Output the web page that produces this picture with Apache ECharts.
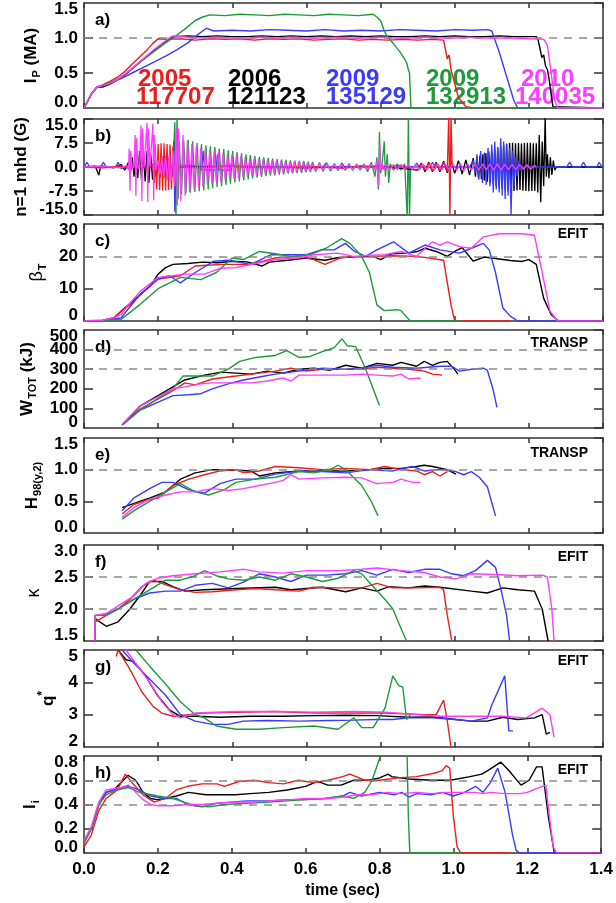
<!DOCTYPE html>
<html><head><meta charset="utf-8">
<script src="https://cdn.jsdelivr.net/npm/echarts@6.0.0/dist/echarts.min.js"></script>
<style>html,body{margin:0;padding:0;background:#fff}#c{width:616px;height:903px}</style>
</head><body><div id="c"></div><script>
// ---------- data (time in s) ----------
const years = ['2005','2006','2009','2009','2010'];
const shots = ['117707','121123','135129','132913','140035'];
const panelLetters = ['a)','b)','c)','d)','e)','f)','g)','h)'];
const panelSource = ['','','EFIT','TRANSP','TRANSP','EFIT','EFIT','EFIT'];
const yMin = [0,-15,0,0,0,1.5,2,0];
const yMax = [1.5,15,30,500,1.5,3,5,0.8];
const yStep = [0.5,7.5,10,100,0.5,0.5,1,0.2];
const yDigits = [1,1,0,0,1,1,0,1];
const refLevels = [[1.0],[],[20],[400,300],[1.0],[2.5,2.0],[],[0.6,0.4]];

// a) Ip (MA)
const ipRed = [[0,0],[0.01,0.1],[0.02,0.2],[0.035,0.3],[0.05,0.33],[0.07,0.38],[0.09,0.44],[0.11,0.52],[0.13,0.63],[0.15,0.73],[0.17,0.83],[0.185,0.92],[0.2,0.99],[0.22,0.98],[0.26,0.99],[0.3,0.97],[0.34,0.99],[0.38,0.98],[0.42,0.99],[0.46,0.97],[0.5,0.99],[0.54,0.98],[0.58,0.99],[0.62,0.97],[0.66,0.98],[0.7,0.99],[0.74,0.97],[0.78,0.98],[0.82,0.97],[0.86,0.98],[0.9,0.97],[0.94,0.98],[0.97,0.97],[0.975,0.95],[0.98,0.7],[0.985,0.76],[0.99,0.55],[1.0,0.35],[1.01,0.15],[1.03,0.02],[1.05,0],[1.4,0]];
const ipBlack = [[0,0],[0.01,0.1],[0.02,0.2],[0.035,0.3],[0.05,0.3],[0.07,0.34],[0.09,0.4],[0.11,0.47],[0.13,0.56],[0.15,0.65],[0.17,0.74],[0.19,0.83],[0.21,0.91],[0.23,0.99],[0.24,1.02],[0.28,1.03],[0.32,1.02],[0.36,1.03],[0.4,1.02],[0.44,1.02],[0.48,1.03],[0.52,1.02],[0.56,1.03],[0.6,1.02],[0.64,1.03],[0.68,1.02],[0.72,1.03],[0.76,1.02],[0.8,1.03],[0.84,1.02],[0.88,1.02],[0.92,1.03],[0.96,1.02],[1.0,1.03],[1.04,1.02],[1.08,1.02],[1.12,1.03],[1.16,1.02],[1.2,1.02],[1.22,1.02],[1.225,0.97],[1.23,0.85],[1.235,0.72],[1.24,0.76],[1.245,0.6],[1.25,0.55],[1.255,0.4],[1.26,0.2],[1.265,0.02],[1.27,0],[1.4,0]];
const ipBlue = [[0,0],[0.01,0.1],[0.02,0.2],[0.035,0.3],[0.05,0.32],[0.07,0.36],[0.1,0.42],[0.13,0.5],[0.16,0.58],[0.19,0.66],[0.22,0.74],[0.25,0.83],[0.28,0.93],[0.3,1.02],[0.32,1.1],[0.33,1.14],[0.35,1.1],[0.4,1.11],[0.45,1.1],[0.5,1.12],[0.55,1.11],[0.6,1.1],[0.65,1.12],[0.7,1.1],[0.75,1.11],[0.8,1.1],[0.85,1.12],[0.9,1.11],[0.95,1.1],[1.0,1.12],[1.05,1.11],[1.09,1.12],[1.1,1.1],[1.12,0.8],[1.14,0.45],[1.16,0.1],[1.17,0],[1.4,0]];
const ipGreen = [[0,0],[0.01,0.1],[0.02,0.2],[0.035,0.3],[0.05,0.32],[0.07,0.36],[0.1,0.44],[0.13,0.56],[0.16,0.69],[0.19,0.81],[0.22,0.93],[0.24,1.0],[0.27,1.12],[0.3,1.25],[0.32,1.3],[0.34,1.33],[0.38,1.32],[0.42,1.34],[0.46,1.33],[0.5,1.32],[0.54,1.34],[0.58,1.33],[0.62,1.32],[0.66,1.34],[0.7,1.33],[0.74,1.32],[0.78,1.34],[0.79,1.3],[0.8,1.25],[0.81,1.1],[0.82,1.0],[0.83,0.95],[0.84,0.88],[0.85,0.82],[0.86,0.74],[0.87,0.65],[0.875,0.55],[0.878,0.5],[0.882,0],[1.4,0]];
const ipMag = [[0,0],[0.01,0.1],[0.02,0.2],[0.035,0.3],[0.05,0.32],[0.07,0.35],[0.09,0.41],[0.11,0.48],[0.13,0.57],[0.15,0.66],[0.17,0.75],[0.19,0.84],[0.21,0.92],[0.23,1.0],[0.24,1.03],[0.28,1.01],[0.32,1.0],[0.36,1.01],[0.4,1.0],[0.44,1.0],[0.48,1.01],[0.52,1.0],[0.56,1.01],[0.6,1.0],[0.64,1.0],[0.68,1.01],[0.72,1.0],[0.76,1.0],[0.8,1.01],[0.84,1.0],[0.88,1.0],[0.92,1.01],[0.96,1.0],[1.0,1.0],[1.04,1.01],[1.08,1.0],[1.12,1.0],[1.16,1.0],[1.2,0.99],[1.24,0.98],[1.25,0.9],[1.26,0.5],[1.27,0.1],[1.278,0],[1.4,0]];

// b) n=1 mhd (G)
const mhdGreen = [[0,0],[0.05,0.3],[0.1,-0.2],[0.15,0.2],[0.2,-0.3],[0.24,0.2],[0.245,14],[0.248,-17],[0.251,17],[0.254,-10],
[0.257,8],[0.263,-8.5],[0.269,8.3],[0.275,-8.2],[0.281,8.5],[0.287,-8],[0.293,8],[0.299,-7.8],[0.305,7.5],[0.311,-7.6],[0.317,7.2],[0.323,-7.3],[0.329,6.8],[0.335,-7],[0.341,6.5],[0.347,-6.6],[0.353,6.2],[0.359,-6.2],[0.365,5.8],[0.371,-6],[0.377,5.6],[0.383,-5.5],[0.389,5.2],[0.395,-5.2],[0.401,5],[0.407,-4.8],[0.413,4.6],[0.419,-4.5],[0.425,4.3],[0.431,-4.2],[0.437,4],[0.443,-3.9],[0.449,3.7],[0.455,-3.6],[0.461,3.4],[0.467,-3.3],[0.473,3.2],[0.479,-3.1],[0.485,3],[0.491,-2.9],[0.497,2.8],[0.503,-2.7],[0.509,2.6],[0.515,-2.6],[0.521,2.5],[0.527,-2.4],[0.533,2.3],[0.539,-2.3],[0.545,2.2],[0.551,-2.1],[0.557,2.1],[0.563,-2],[0.569,2],[0.575,-1.9],[0.581,1.9],[0.587,-1.8],[0.593,1.8],[0.599,-1.7],[0.605,1.7],[0.611,-1.6],[0.617,1.6],
[0.625,-1.5],[0.635,1.4],[0.645,-1.4],[0.655,1.3],[0.665,-1.3],[0.675,1.2],[0.685,-1.2],[0.695,1.2],[0.705,-1.1],[0.715,1.1],[0.725,-1.1],[0.735,1],[0.745,-1],[0.755,1],[0.765,-1.5],[0.775,1.5],[0.785,-3],[0.79,3],[0.794,-7],[0.797,11],[0.8,-2],[0.805,2],[0.81,8],[0.813,-3],[0.818,4],[0.822,-5],[0.826,1],[0.835,-1],[0.845,1],[0.855,-1],[0.865,1],[0.872,-16],[0.875,16],[0.878,-16],[0.881,0],[1.4,0]];
const mhdBlack = [[0,0],[0.03,0.3],[0.04,-2.5],[0.045,0.3],[0.08,-0.3],[0.1,0.8],[0.11,-1],[0.12,1.5],[0.125,-2],[0.13,3],[0.135,-3],[0.14,4],[0.145,-3.5],[0.15,5],[0.155,-4],[0.16,4],[0.165,-4.5],[0.17,5],[0.175,-5],[0.18,4],[0.185,-4],[0.19,3],[0.195,-3],[0.2,3.2],[0.205,-3.2],[0.21,3.3],[0.215,-3.3],[0.22,3.3],[0.225,-3.3],[0.23,3],[0.235,-3],[0.24,2],[0.25,0],[0.4,0.3],[0.6,-0.3],[0.8,0.3],[0.9,-1],[0.91,1.2],[0.92,-1.5],[0.93,1.5],[0.94,-1.5],[0.95,1.5],[0.96,-1.5],[0.97,1.8],[0.98,-1.8],[0.99,2],[1.0,-2],[1.01,2],[1.02,-2.2],[1.03,2.2],[1.04,-2.5],[1.05,2.8],
[1.056,-3],[1.06,3.2],[1.064,-3.5],[1.068,3.6],[1.072,-3.8],[1.076,4],[1.08,-4.2],[1.084,4.4],[1.088,-4.6],[1.092,4.8],[1.096,-5],[1.1,5.2],[1.104,-5.5],[1.108,5.7],[1.112,-6],[1.116,6.2],[1.12,-6.5],[1.124,6.6],[1.128,-6.8],[1.132,7],[1.136,-7.2],[1.14,7.3],[1.144,-7.4],[1.148,7.5],[1.152,-7.6],[1.156,7.6],[1.16,-7.5],[1.164,7.4],[1.168,-7.3],[1.172,7.5],[1.176,-7.2],[1.18,7.3],[1.184,-7.4],[1.188,7.5],[1.192,-7.5],[1.196,7.6],[1.2,-7.6],[1.204,7.6],[1.208,-7.5],[1.212,7.4],[1.216,-7.5],[1.22,7.4],[1.224,-8],[1.228,10],[1.232,-11],[1.236,8],[1.24,-6],[1.244,16],[1.247,-3],[1.25,4],[1.254,-3.5],[1.258,3],[1.262,-2.5],[1.266,2],[1.27,-1],[1.275,0],[1.4,0]];
const mhdBlue = [[0,0],[0.008,1.5],[0.015,0],[0.045,0],[0.052,1.5],[0.06,0],[0.085,0],[0.092,1.5],[0.1,-0.5],[0.12,0.3],[0.13,1],[0.14,0],[0.2,0],[0.23,0.5],[0.238,-3],[0.242,8],[0.245,-14],[0.248,6],[0.252,-2],[0.26,0.5],[0.3,0.5],[0.318,-1],[0.322,5],[0.326,-1],[0.356,-1],[0.36,4],[0.364,-1],[0.396,-1],[0.4,3.5],[0.405,0],[0.5,0],[0.645,0],[0.652,1.2],[0.66,0],[0.69,0],[0.696,1.2],[0.703,0],[0.89,0],[0.897,1.2],[0.905,0],[0.933,0],[0.94,1.5],[0.947,0],[1.04,0],
[1.05,2],[1.055,-2],[1.06,4],[1.065,-4],[1.07,5],[1.075,-5],[1.08,4.5],[1.085,-5.5],[1.09,6],[1.095,-6],[1.1,7],[1.104,-8],[1.108,8],[1.112,-7],[1.116,6],[1.12,-8],[1.124,9],[1.128,-9],[1.132,8],[1.136,-10],[1.14,7],[1.144,-9],[1.148,6],[1.152,-15],[1.156,5],[1.16,-6],[1.164,3],[1.168,-3],[1.172,2],[1.176,-1],[1.18,0],[1.302,0],[1.31,1.5],[1.318,0],[1.34,0],[1.347,1.5],[1.355,0],[1.383,0],[1.39,1.5],[1.397,0],[1.4,0]];
const mhdRed = [[0,0],[0.05,-0.3],[0.1,0.3],[0.12,-0.5],[0.15,0.4],[0.17,-0.5],[0.185,1],[0.19,-5],[0.192,7],[0.196,-7],[0.2,7.2],[0.204,-7.2],[0.208,7.4],[0.212,-7.3],[0.216,7.4],[0.22,-7.4],[0.224,7.2],[0.228,-7.2],[0.232,7],[0.236,-7],[0.24,6.5],[0.244,-5],[0.25,0.5],[0.3,-0.3],[0.4,0.3],[0.5,-0.3],[0.6,0.3],[0.7,-0.4],[0.75,0.4],[0.8,-0.5],[0.85,0.5],[0.9,-1],[0.91,1],[0.92,-1],[0.93,1.2],[0.94,-1.2],[0.95,1.2],[0.96,-1.2],[0.97,1.5],[0.98,-1.5],[0.984,17],[0.987,-17],[0.99,17],[0.993,0],[1.0,0]];
const mhdMag = [[0,0],[0.05,0.3],[0.1,-0.3],[0.115,0.5],[0.12,-1],[0.122,5.8],[0.124,-7.4],[0.126,5],[0.13,-0.5],[0.135,0.5],[0.138,10],[0.14,-9],[0.142,9],[0.146,-0.5],[0.15,0.3],[0.154,13],[0.156,-10.6],[0.158,12],[0.162,0],[0.167,0.5],[0.17,13.8],[0.172,-11],[0.174,12],[0.178,0],[0.183,0.5],[0.186,13.6],[0.188,-10.4],[0.19,10],[0.194,-1],[0.2,2],[0.205,-2.5],[0.21,3],[0.215,-3],[0.22,3.5],[0.225,-4],[0.23,4],[0.235,-4.5],[0.24,5],[0.245,-6],[0.249,12],[0.252,-12],
[0.255,12],[0.261,-10.6],[0.267,10],[0.273,-9],[0.279,8.2],[0.285,-7.8],[0.291,7.2],[0.297,-7],[0.303,6.6],[0.309,-6.4],[0.315,6.1],[0.321,-6],[0.327,5.7],[0.333,-5.6],[0.339,5.3],[0.345,-5.2],[0.351,5],[0.357,-4.9],[0.363,4.7],[0.369,-4.6],[0.375,4.4],[0.381,-4.3],[0.387,4.1],[0.393,-4],[0.399,3.8],[0.405,-3.7],[0.411,3.6],[0.417,-3.5],[0.423,3.3],[0.429,-3.2],[0.435,3.1],[0.441,-3],[0.447,2.9],[0.453,-2.8],[0.459,2.7],[0.465,-2.6],[0.471,2.5],[0.477,-2.5],[0.483,2.4],[0.489,-2.3],[0.495,2.2],[0.501,-2.2],[0.507,2.1],[0.513,-2.1],[0.519,2],[0.525,-2],[0.531,1.9],[0.537,-1.9],[0.543,1.8],[0.549,-1.8],[0.555,1.7],[0.561,-1.7],[0.567,1.6],[0.573,-1.6],[0.579,1.5],[0.585,-1.5],[0.591,1.4],[0.597,-1.4],[0.603,1.4],[0.609,-1.3],[0.615,1.3],
[0.625,-1.2],[0.635,1.2],[0.645,-1.1],[0.655,1.1],[0.665,-1],[0.675,1],[0.685,-1],[0.695,0.9],[0.705,-0.9],[0.715,0.9],[0.725,-0.9],[0.735,0.8],[0.745,-0.8],[0.755,0.8],[0.765,-0.8],[0.775,0.8],[0.785,-1],[0.79,2],[0.795,-6],[0.798,7],[0.8,-1],[0.805,1],[0.81,-1],[0.815,0.8],[0.825,-0.8],[0.835,0.8],[0.845,-0.8],[0.855,0.8],[0.865,-0.8],[0.875,0.8],[0.885,-0.8],[0.895,0.9],[0.905,-0.9],[0.915,0.9],[0.925,-0.9],[0.935,1],[0.945,-1],[0.955,1],[0.965,-1],[0.975,1],[0.985,-1],[0.995,1.2],[1.005,-1.2],[1.015,1.2],[1.025,-1.2],[1.035,1],[1.045,-1],[1.055,1],[1.065,-1],[1.075,1],[1.085,-1],[1.095,1],[1.105,-1],[1.115,1],[1.125,-1],[1.135,0.8],[1.145,-0.8],[1.155,0.8],[1.165,-0.8],[1.175,0.8],[1.185,-0.7],[1.195,0.7],[1.205,-0.7],[1.215,0.6],[1.22,0]];

// c) beta_T
const betaBlack = [[0,0],[0.05,0.2],[0.08,0.8],[0.1,3],[0.12,5],[0.15,8],[0.18,11],[0.2,14.5],[0.22,16.5],[0.24,17.5],[0.28,17.8],[0.32,18.2],[0.36,18],[0.4,18.5],[0.44,18.3],[0.48,17],[0.5,18.2],[0.55,18.8],[0.6,19.5],[0.65,18.8],[0.68,19.5],[0.72,19.8],[0.78,20],[0.8,19],[0.83,20.8],[0.87,21],[0.9,21.5],[0.92,22.5],[0.95,21.5],[0.98,20],[1.0,21.5],[1.02,22.7],[1.05,18.5],[1.08,19.8],[1.1,19.5],[1.15,18.7],[1.18,18.4],[1.2,19],[1.22,17.5],[1.24,7],[1.26,2],[1.28,0],[1.4,0]];
const betaRed = [[0,0],[0.05,0.2],[0.08,1],[0.1,3],[0.124,5],[0.15,8],[0.2,13],[0.26,14],[0.3,17],[0.37,17.5],[0.45,17.5],[0.515,19.5],[0.58,20],[0.62,19],[0.65,17.5],[0.695,19.7],[0.78,20],[0.83,20.2],[0.9,20],[0.97,18.8],[0.99,5],[1.0,0],[1.15,0]];
const betaBlue = [[0,0],[0.05,0.2],[0.08,0.6],[0.1,1],[0.15,8],[0.2,13],[0.23,14],[0.26,11.8],[0.3,15],[0.35,18.5],[0.39,18.8],[0.45,17.5],[0.505,20.5],[0.55,20.5],[0.6,20.5],[0.64,22],[0.675,22],[0.705,24],[0.73,21.5],[0.76,20],[0.79,22],[0.835,24.5],[0.876,21],[0.92,23.5],[0.96,22],[1.013,21],[1.045,22.5],[1.077,24],[1.093,22],[1.11,15],[1.13,4],[1.15,1.5],[1.17,0],[1.4,0]];
const betaGreen = [[0,0],[0.05,0.1],[0.1,0.5],[0.15,5],[0.2,10],[0.26,13.5],[0.315,12.8],[0.357,15],[0.4,19.5],[0.43,19],[0.473,21.5],[0.516,20.8],[0.558,20],[0.61,20.5],[0.653,22.5],[0.695,25.5],[0.717,24],[0.749,20],[0.77,15],[0.79,5],[0.81,3.2],[0.844,3.5],[0.855,3.2],[0.88,0],[1.02,0]];
const betaMag = [[0,0],[0.05,0.3],[0.08,1],[0.1,2],[0.12,5],[0.15,9],[0.2,13.5],[0.272,14.5],[0.325,14.5],[0.367,16.3],[0.41,16.5],[0.473,18],[0.516,19],[0.58,19.5],[0.62,20.5],[0.685,21],[0.728,20],[0.76,20.3],[0.81,20.5],[0.855,21.5],[0.897,20],[0.94,24.5],[0.96,23.5],[0.98,24.5],[1.013,23],[1.045,22.5],[1.077,26],[1.12,27],[1.183,27],[1.215,26.5],[1.236,15],[1.257,3],[1.278,0],[1.4,0]];

// d) W_TOT (kJ)
const wBlack = [[0.103,15],[0.15,110],[0.24,210],[0.272,245],[0.325,270],[0.37,285],[0.41,280],[0.45,275],[0.495,290],[0.537,280],[0.58,300],[0.62,305],[0.664,295],[0.706,320],[0.749,305],[0.79,330],[0.833,320],[0.855,335],[0.897,315],[0.918,340],[0.94,320],[0.96,335],[0.98,340],[1.003,290],[1.008,275]];
const wRed = [[0.103,15],[0.15,95],[0.24,190],[0.272,230],[0.3,220],[0.346,250],[0.41,265],[0.473,280],[0.516,290],[0.558,305],[0.6,290],[0.643,300],[0.706,300],[0.749,300],[0.79,310],[0.833,305],[0.876,300],[0.918,290],[0.94,275],[0.966,270]];
const wBlue = [[0.103,15],[0.15,90],[0.24,165],[0.283,170],[0.315,175],[0.346,200],[0.389,225],[0.43,245],[0.473,260],[0.516,275],[0.558,285],[0.6,295],[0.643,305],[0.706,300],[0.749,305],[0.79,320],[0.833,310],[0.897,305],[0.96,315],[0.992,315],[1.013,290],[1.045,300],[1.077,305],[1.088,295],[1.103,200],[1.114,105]];
const wGreen = [[0.103,15],[0.15,90],[0.24,200],[0.267,265],[0.293,265],[0.346,265],[0.389,300],[0.42,340],[0.463,360],[0.516,370],[0.547,395],[0.58,360],[0.61,365],[0.643,390],[0.675,410],[0.696,455],[0.71,420],[0.733,415],[0.76,300],[0.797,115]];
const wMag = [[0.103,20],[0.15,110],[0.24,200],[0.272,210],[0.315,225],[0.346,230],[0.41,230],[0.45,230],[0.495,240],[0.537,255],[0.558,240],[0.58,270],[0.643,270],[0.706,270],[0.749,275],[0.79,270],[0.833,265],[0.855,275],[0.876,250],[0.908,255]];

// e) H98(y,2)
const hBlack = [[0.103,0.4],[0.15,0.5],[0.177,0.55],[0.22,0.65],[0.26,0.85],[0.3,0.95],[0.346,1.0],[0.41,0.99],[0.45,0.98],[0.473,0.9],[0.516,0.95],[0.58,0.98],[0.643,0.98],[0.706,0.98],[0.77,1.0],[0.812,1.02],[0.855,1.02],[0.897,1.05],[0.918,1.07],[0.94,1.05],[0.98,1.0],[1.003,0.93]];
const hRed = [[0.103,0.3],[0.134,0.45],[0.17,0.52],[0.2,0.55],[0.24,0.75],[0.283,0.85],[0.325,0.92],[0.367,0.98],[0.41,1.0],[0.43,0.95],[0.473,0.98],[0.516,1.05],[0.58,1.03],[0.643,1.0],[0.706,1.02],[0.77,1.0],[0.812,1.05],[0.855,1.0],[0.897,0.98],[0.918,0.92],[0.94,0.97],[0.96,0.9],[0.98,0.97]];
const hBlue = [[0.103,0.35],[0.134,0.55],[0.177,0.7],[0.21,0.8],[0.24,0.8],[0.283,0.68],[0.325,0.63],[0.367,0.78],[0.41,0.85],[0.463,0.85],[0.516,0.93],[0.58,0.98],[0.643,0.97],[0.706,0.95],[0.77,1.0],[0.833,0.98],[0.886,1.05],[0.918,0.98],[0.96,1.0],[1.003,0.97],[1.024,0.92],[1.045,0.97],[1.066,0.88],[1.088,0.73],[1.11,0.27]];
const hGreen = [[0.103,0.22],[0.134,0.35],[0.177,0.5],[0.22,0.65],[0.26,0.78],[0.3,0.65],[0.336,0.6],[0.378,0.68],[0.41,0.8],[0.463,0.85],[0.516,0.88],[0.58,0.97],[0.62,0.95],[0.664,1.0],[0.685,1.07],[0.706,1.0],[0.749,0.75],[0.775,0.5],[0.793,0.27]];
const hMag = [[0.103,0.25],[0.134,0.4],[0.177,0.53],[0.22,0.6],[0.26,0.65],[0.3,0.65],[0.346,0.7],[0.39,0.67],[0.43,0.7],[0.473,0.75],[0.516,0.8],[0.537,0.83],[0.558,0.92],[0.58,0.85],[0.643,0.87],[0.706,0.88],[0.749,0.87],[0.79,0.78],[0.833,0.8],[0.855,0.85],[0.886,0.8],[0.908,0.8]];

// f) kappa
const kapBlack = [[0.029,1.5],[0.03,1.85],[0.06,1.73],[0.092,1.8],[0.124,2.0],[0.156,2.25],[0.177,2.43],[0.21,2.43],[0.24,2.35],[0.272,2.28],[0.325,2.3],[0.41,2.32],[0.516,2.34],[0.558,2.3],[0.6,2.32],[0.643,2.34],[0.706,2.27],[0.749,2.33],[0.79,2.28],[0.823,2.35],[0.876,2.33],[0.918,2.36],[0.96,2.34],[1.045,2.28],[1.088,2.25],[1.13,2.33],[1.17,2.3],[1.215,2.28],[1.236,2.0],[1.252,1.5]];
const kapRed = [[0.029,1.5],[0.03,1.8],[0.06,1.9],[0.092,2.0],[0.124,2.15],[0.156,2.35],[0.187,2.45],[0.22,2.38],[0.26,2.3],[0.3,2.26],[0.346,2.27],[0.41,2.3],[0.463,2.32],[0.516,2.3],[0.58,2.28],[0.62,2.34],[0.685,2.33],[0.749,2.33],[0.79,2.4],[0.833,2.33],[0.897,2.33],[0.96,2.34],[0.97,2.3],[0.98,1.9],[0.992,1.5]];
const kapBlue = [[0.029,1.5],[0.03,1.9],[0.06,1.92],[0.092,2.0],[0.134,2.15],[0.177,2.25],[0.22,2.28],[0.26,2.28],[0.3,2.37],[0.346,2.4],[0.389,2.33],[0.43,2.42],[0.473,2.55],[0.516,2.5],[0.558,2.43],[0.6,2.53],[0.653,2.53],[0.706,2.55],[0.749,2.6],[0.79,2.53],[0.833,2.62],[0.876,2.57],[0.918,2.62],[0.96,2.62],[0.992,2.55],[1.024,2.52],[1.056,2.6],[1.088,2.76],[1.11,2.65],[1.125,2.3],[1.14,1.9],[1.148,1.5]];
const kapGreen = [[0.029,1.5],[0.03,1.9],[0.06,1.9],[0.092,2.0],[0.134,2.15],[0.177,2.3],[0.22,2.45],[0.26,2.45],[0.3,2.52],[0.325,2.6],[0.357,2.52],[0.389,2.47],[0.43,2.45],[0.473,2.5],[0.516,2.45],[0.558,2.55],[0.6,2.5],[0.643,2.43],[0.685,2.48],[0.728,2.6],[0.749,2.55],[0.78,2.35],[0.812,2.15],[0.833,2.0],[0.855,1.7],[0.87,1.5]];
const kapMag = [[0.029,1.5],[0.03,1.9],[0.06,1.93],[0.092,2.05],[0.134,2.2],[0.166,2.4],[0.198,2.48],[0.24,2.52],[0.3,2.55],[0.367,2.58],[0.43,2.62],[0.473,2.58],[0.537,2.56],[0.6,2.6],[0.685,2.6],[0.749,2.62],[0.79,2.64],[0.855,2.6],[0.918,2.57],[0.96,2.5],[1.003,2.47],[1.045,2.55],[1.11,2.54],[1.17,2.52],[1.236,2.53],[1.25,2.5],[1.262,2.0],[1.268,1.5]];

// g) q*
const qBlack = [[0.092,5.0],[0.113,4.7],[0.134,4.65],[0.166,4.2],[0.198,3.6],[0.23,3.15],[0.26,2.95],[0.3,2.95],[0.367,2.92],[0.45,2.95],[0.537,2.95],[0.62,2.97],[0.706,2.98],[0.79,2.97],[0.876,2.92],[0.94,2.93],[1.003,2.85],[1.045,2.8],[1.088,2.8],[1.13,2.92],[1.17,2.85],[1.215,2.9],[1.236,3.0],[1.247,2.4],[1.257,2.45]];
const qRed = [[0.087,4.8],[0.092,5.0],[0.124,4.4],[0.156,3.7],[0.187,3.25],[0.21,3.05],[0.24,2.95],[0.283,3.0],[0.325,3.05],[0.41,3.07],[0.516,3.1],[0.62,3.05],[0.728,3.05],[0.812,3.05],[0.876,3.02],[0.918,3.0],[0.95,3.0],[0.97,3.45],[0.98,2.8],[0.99,2.0]];
const qBlue = [[0.103,5.0],[0.134,4.6],[0.177,4.1],[0.22,3.6],[0.26,3.0],[0.3,2.8],[0.346,2.7],[0.389,2.7],[0.43,2.8],[0.495,2.82],[0.58,2.8],[0.664,2.82],[0.728,2.83],[0.79,2.85],[0.833,2.85],[0.876,2.9],[0.94,2.9],[1.003,2.85],[1.045,2.8],[1.088,2.9],[1.1,3.3],[1.135,4.2],[1.146,2.5],[1.157,2.5]];
const qGreen = [[0.14,5.0],[0.177,4.5],[0.22,3.95],[0.26,3.4],[0.3,3.0],[0.325,2.9],[0.357,2.65],[0.41,2.55],[0.473,2.55],[0.537,2.6],[0.62,2.65],[0.685,2.55],[0.728,2.9],[0.749,2.6],[0.78,2.6],[0.812,3.2],[0.833,4.2],[0.849,3.9],[0.86,3.85],[0.87,2.85],[0.88,3.0]];
const qMag = [[0.113,5.0],[0.145,4.5],[0.177,4.0],[0.21,3.4],[0.24,3.0],[0.26,2.9],[0.3,3.05],[0.41,3.1],[0.516,3.1],[0.62,3.08],[0.728,3.1],[0.812,3.08],[0.897,3.0],[0.96,2.95],[1.045,2.95],[1.13,2.95],[1.193,2.9],[1.236,3.2],[1.257,3.0],[1.268,2.3]];

// h) l_i
const liBlack = [[0,0.1],[0.02,0.2],[0.04,0.4],[0.06,0.5],[0.08,0.52],[0.1,0.58],[0.119,0.64],[0.14,0.6],[0.16,0.5],[0.18,0.45],[0.198,0.44],[0.22,0.45],[0.25,0.47],[0.283,0.5],[0.33,0.48],[0.37,0.48],[0.41,0.48],[0.45,0.49],[0.5,0.5],[0.55,0.52],[0.6,0.55],[0.632,0.59],[0.66,0.56],[0.696,0.56],[0.73,0.6],[0.77,0.6],[0.8,0.62],[0.823,0.65],[0.833,0.63],[0.88,0.61],[0.94,0.6],[0.992,0.6],[1.045,0.63],[1.077,0.65],[1.098,0.69],[1.128,0.75],[1.15,0.68],[1.183,0.56],[1.205,0.6],[1.225,0.71],[1.24,0.71],[1.257,0.3],[1.273,0],[1.4,0]];
const liRed = [[0,0.05],[0.02,0.15],[0.04,0.35],[0.06,0.45],[0.09,0.52],[0.112,0.65],[0.13,0.58],[0.16,0.48],[0.19,0.42],[0.22,0.45],[0.25,0.52],[0.28,0.55],[0.32,0.57],[0.36,0.57],[0.38,0.55],[0.42,0.59],[0.46,0.6],[0.5,0.58],[0.54,0.57],[0.58,0.6],[0.62,0.58],[0.66,0.6],[0.7,0.63],[0.72,0.65],[0.76,0.6],[0.8,0.6],[0.85,0.62],[0.9,0.63],[0.95,0.66],[0.97,0.68],[0.98,0.72],[0.99,0.7],[1.0,0.3],[1.01,0.05],[1.02,0],[1.15,0]];
const liBlue = [[0,0.08],[0.02,0.2],[0.04,0.4],[0.06,0.5],[0.09,0.53],[0.12,0.55],[0.15,0.52],[0.18,0.47],[0.22,0.45],[0.25,0.45],[0.28,0.4],[0.32,0.38],[0.36,0.41],[0.4,0.42],[0.44,0.43],[0.5,0.43],[0.55,0.44],[0.6,0.44],[0.65,0.45],[0.7,0.47],[0.72,0.5],[0.75,0.47],[0.8,0.5],[0.84,0.48],[0.86,0.5],[0.88,0.46],[0.9,0.49],[0.94,0.48],[0.97,0.5],[1.0,0.47],[1.03,0.5],[1.06,0.55],[1.08,0.5],[1.1,0.58],[1.12,0.7],[1.14,0.5],[1.16,0.15],[1.17,0.02],[1.18,0],[1.28,0]];
const liGreen = [[0,0.08],[0.02,0.2],[0.04,0.4],[0.06,0.48],[0.09,0.52],[0.12,0.54],[0.15,0.5],[0.2,0.47],[0.24,0.45],[0.27,0.42],[0.3,0.39],[0.34,0.38],[0.38,0.4],[0.44,0.41],[0.5,0.42],[0.55,0.43],[0.6,0.44],[0.66,0.45],[0.7,0.47],[0.73,0.45],[0.76,0.5],[0.78,0.6],[0.8,0.78],[0.81,0.9],[0.874,0.9],[0.878,0.3],[0.882,0],[1.02,0]];
const liMag = [[0,0.1],[0.02,0.22],[0.04,0.42],[0.06,0.52],[0.08,0.53],[0.1,0.54],[0.12,0.56],[0.14,0.5],[0.16,0.44],[0.18,0.4],[0.2,0.39],[0.24,0.39],[0.28,0.4],[0.32,0.4],[0.36,0.41],[0.4,0.42],[0.46,0.42],[0.5,0.43],[0.56,0.44],[0.6,0.45],[0.66,0.45],[0.7,0.46],[0.74,0.48],[0.78,0.48],[0.82,0.5],[0.86,0.49],[0.9,0.5],[0.94,0.49],[0.98,0.5],[1.02,0.5],[1.06,0.5],[1.08,0.49],[1.1,0.5],[1.14,0.49],[1.18,0.49],[1.2,0.5],[1.24,0.55],[1.25,0.56],[1.26,0.3],[1.27,0.05],[1.28,0],[1.4,0]];

// ---------- layout & style ----------
const RED='#ee1c1c', BLK='#000000', BLU='#3a3aff', GRN='#1d9a3a', MAG='#ff3cff';
const legendColors = [RED,BLK,BLU,GRN,MAG];
const GT = [3,119,224,330,438,545,650,756];
const GH = [105,96,97,98,95,96,97,97];
const nameGaps = [42,52,35,43,40,37,25,43];
const panelSeries = [
  [[ipBlack,BLK],[ipRed,RED],[ipBlue,BLU],[ipGreen,GRN],[ipMag,MAG]],
  [[mhdGreen,GRN],[mhdBlack,BLK],[mhdBlue,BLU],[mhdRed,RED],[mhdMag,MAG]],
  [[betaBlack,BLK],[betaRed,RED],[betaBlue,BLU],[betaGreen,GRN],[betaMag,MAG]],
  [[wBlack,BLK],[wRed,RED],[wBlue,BLU],[wGreen,GRN],[wMag,MAG]],
  [[hBlack,BLK],[hRed,RED],[hBlue,BLU],[hGreen,GRN],[hMag,MAG]],
  [[kapBlack,BLK],[kapRed,RED],[kapBlue,BLU],[kapGreen,GRN],[kapMag,MAG]],
  [[qBlack,BLK],[qRed,RED],[qBlue,BLU],[qGreen,GRN],[qMag,MAG]],
  [[liBlack,BLK],[liRed,RED],[liBlue,BLU],[liGreen,GRN],[liMag,MAG]]
];
const yNames = ['{m|I}{s|P}{m| (MA)}','{m|n=1 mhd (G)}','{g|β}{s|T}','{m|W}{s|TOT}{m| (kJ)}','{m|H}{s|98(y,2)}','{g|κ}','{m|q}{sup|*}','{m|l}{s|i}'];
const FONT = '"Liberation Sans", Arial, sans-serif';
const rich = {
  m:{fontFamily:FONT,fontWeight:'bold',fontSize:17,color:'#000',lineHeight:22},
  g:{fontFamily:FONT,fontWeight:'normal',fontSize:18,color:'#000',lineHeight:22},
  s:{fontFamily:FONT,fontWeight:'bold',fontSize:11,color:'#000',lineHeight:22,verticalAlign:'bottom',padding:[8,0,0,1]},
  sup:{fontFamily:FONT,fontWeight:'bold',fontSize:12,color:'#000',lineHeight:22,verticalAlign:'top'}
};
const AX = '#333';
const grids=[], xAxes=[], yAxes=[], series=[], graphics=[];
for (let i=0;i<8;i++){
  grids.push({left:84,right:13,top:GT[i],height:GH[i]});
  const line={show:true,onZero:false,lineStyle:{color:AX,width:1.5}};
  const xt={show:true,inside:true,length:5,lineStyle:{color:AX,width:1.5}};
  const yt={show:true,inside:true,length:9,lineStyle:{color:AX,width:1.5}};
  const lab={fontFamily:FONT,fontWeight:'bold',fontSize:17,color:'#000',margin:6};
  const allOnSecond = (i===1);   // panel b: every tick label on the label axis
  xAxes.push({type:'value',gridIndex:i,min:0,max:1.4,interval:0.2,position:'bottom',axisLine:line,axisTick:xt,splitLine:{show:false},
    axisLabel:{show:i===7,formatter:v=>v.toFixed(1),fontFamily:FONT,fontWeight:'bold',fontSize:17,color:'#000',margin:8},
    name:i===7?'time (sec)':'',nameLocation:'middle',nameGap:30,nameTextStyle:{fontFamily:FONT,fontWeight:'bold',fontSize:16,color:'#000'}});
  xAxes.push({type:'value',gridIndex:i,min:0,max:1.4,interval:0.2,position:'top',axisLine:line,axisTick:xt,splitLine:{show:false},axisLabel:{show:false}});
  const d=yDigits[i];
  // main left axis: inner tick labels + title
  yAxes.push({type:'value',gridIndex:i,min:yMin[i],max:yMax[i],interval:yStep[i],position:'left',axisLine:line,axisTick:yt,splitLine:{show:false},
    axisLabel:Object.assign({show:!allOnSecond,formatter:v=>v.toFixed(d),showMinLabel:false,showMaxLabel:false},lab),
    name:yNames[i],nameLocation:'middle',nameRotate:90,nameGap:nameGaps[i],nameTextStyle:{rich:rich}});
  // label axis: end labels (min / max) nudged inside the frame like the original
  yAxes.push({type:'value',gridIndex:i,min:yMin[i],max:yMax[i],interval:allOnSecond?yStep[i]:yMax[i]-yMin[i],position:'left',axisLine:{show:false,onZero:false},axisTick:{show:false},splitLine:{show:false},
    axisLabel:Object.assign({formatter:v=>v.toFixed(d),showMinLabel:true,showMaxLabel:true,lineHeight:12,verticalAlignMinLabel:'bottom',verticalAlignMaxLabel:'top'},lab)});
  yAxes.push({type:'value',gridIndex:i,min:yMin[i],max:yMax[i],interval:yStep[i],position:'right',axisLine:line,axisTick:yt,splitLine:{show:false},axisLabel:{show:false}});
  series.push({type:'line',xAxisIndex:2*i,yAxisIndex:3*i,data:[],silent:true,z:1,
    markLine:{silent:true,symbol:['none','none'],label:{show:false},animation:false,
      lineStyle:{color:'#8c8c8c',type:[8,7],width:1.6},data:refLevels[i].map(v=>({yAxis:v}))}});
  panelSeries[i].forEach(([arr,col],k)=>{
    series.push({type:'line',xAxisIndex:2*i,yAxisIndex:3*i,data:arr,showSymbol:false,symbol:'none',clip:true,z:2+k,
      lineStyle:{color:col,width:i===1?1.3:1.4},itemStyle:{color:col},animation:false});
  });
  graphics.push({type:'text',left:95,top:GT[i]+9,style:{text:panelLetters[i],font:'bold 17px '+FONT,fill:'#000'}});
}
const srcTop = [0,0,GT[2]+3,GT[3]+6,GT[4]+8,GT[5]+5,GT[6]+4,GT[7]+7];
for (let i=2;i<8;i++) graphics.push({type:'text',right:28,top:srcTop[i],style:{text:panelSource[i],font:'bold 14px '+FONT,fill:'#000'}});
const yearLeft=[138,228,326,426,521], shotLeft=[136,227,326,426,515];
for (let k=0;k<5;k++){
  graphics.push({type:'text',left:yearLeft[k],top:67,style:{text:years[k],font:'bold 24px '+FONT,fill:legendColors[k]}});
  graphics.push({type:'text',left:shotLeft[k],top:85,style:{text:shots[k],font:'bold 24px '+FONT,fill:legendColors[k]}});
}
const chart = echarts.init(document.getElementById('c'));
chart.setOption({animation:false,backgroundColor:'#fff',grid:grids,xAxis:xAxes,yAxis:yAxes,series:series,graphic:graphics});
</script></body></html>
